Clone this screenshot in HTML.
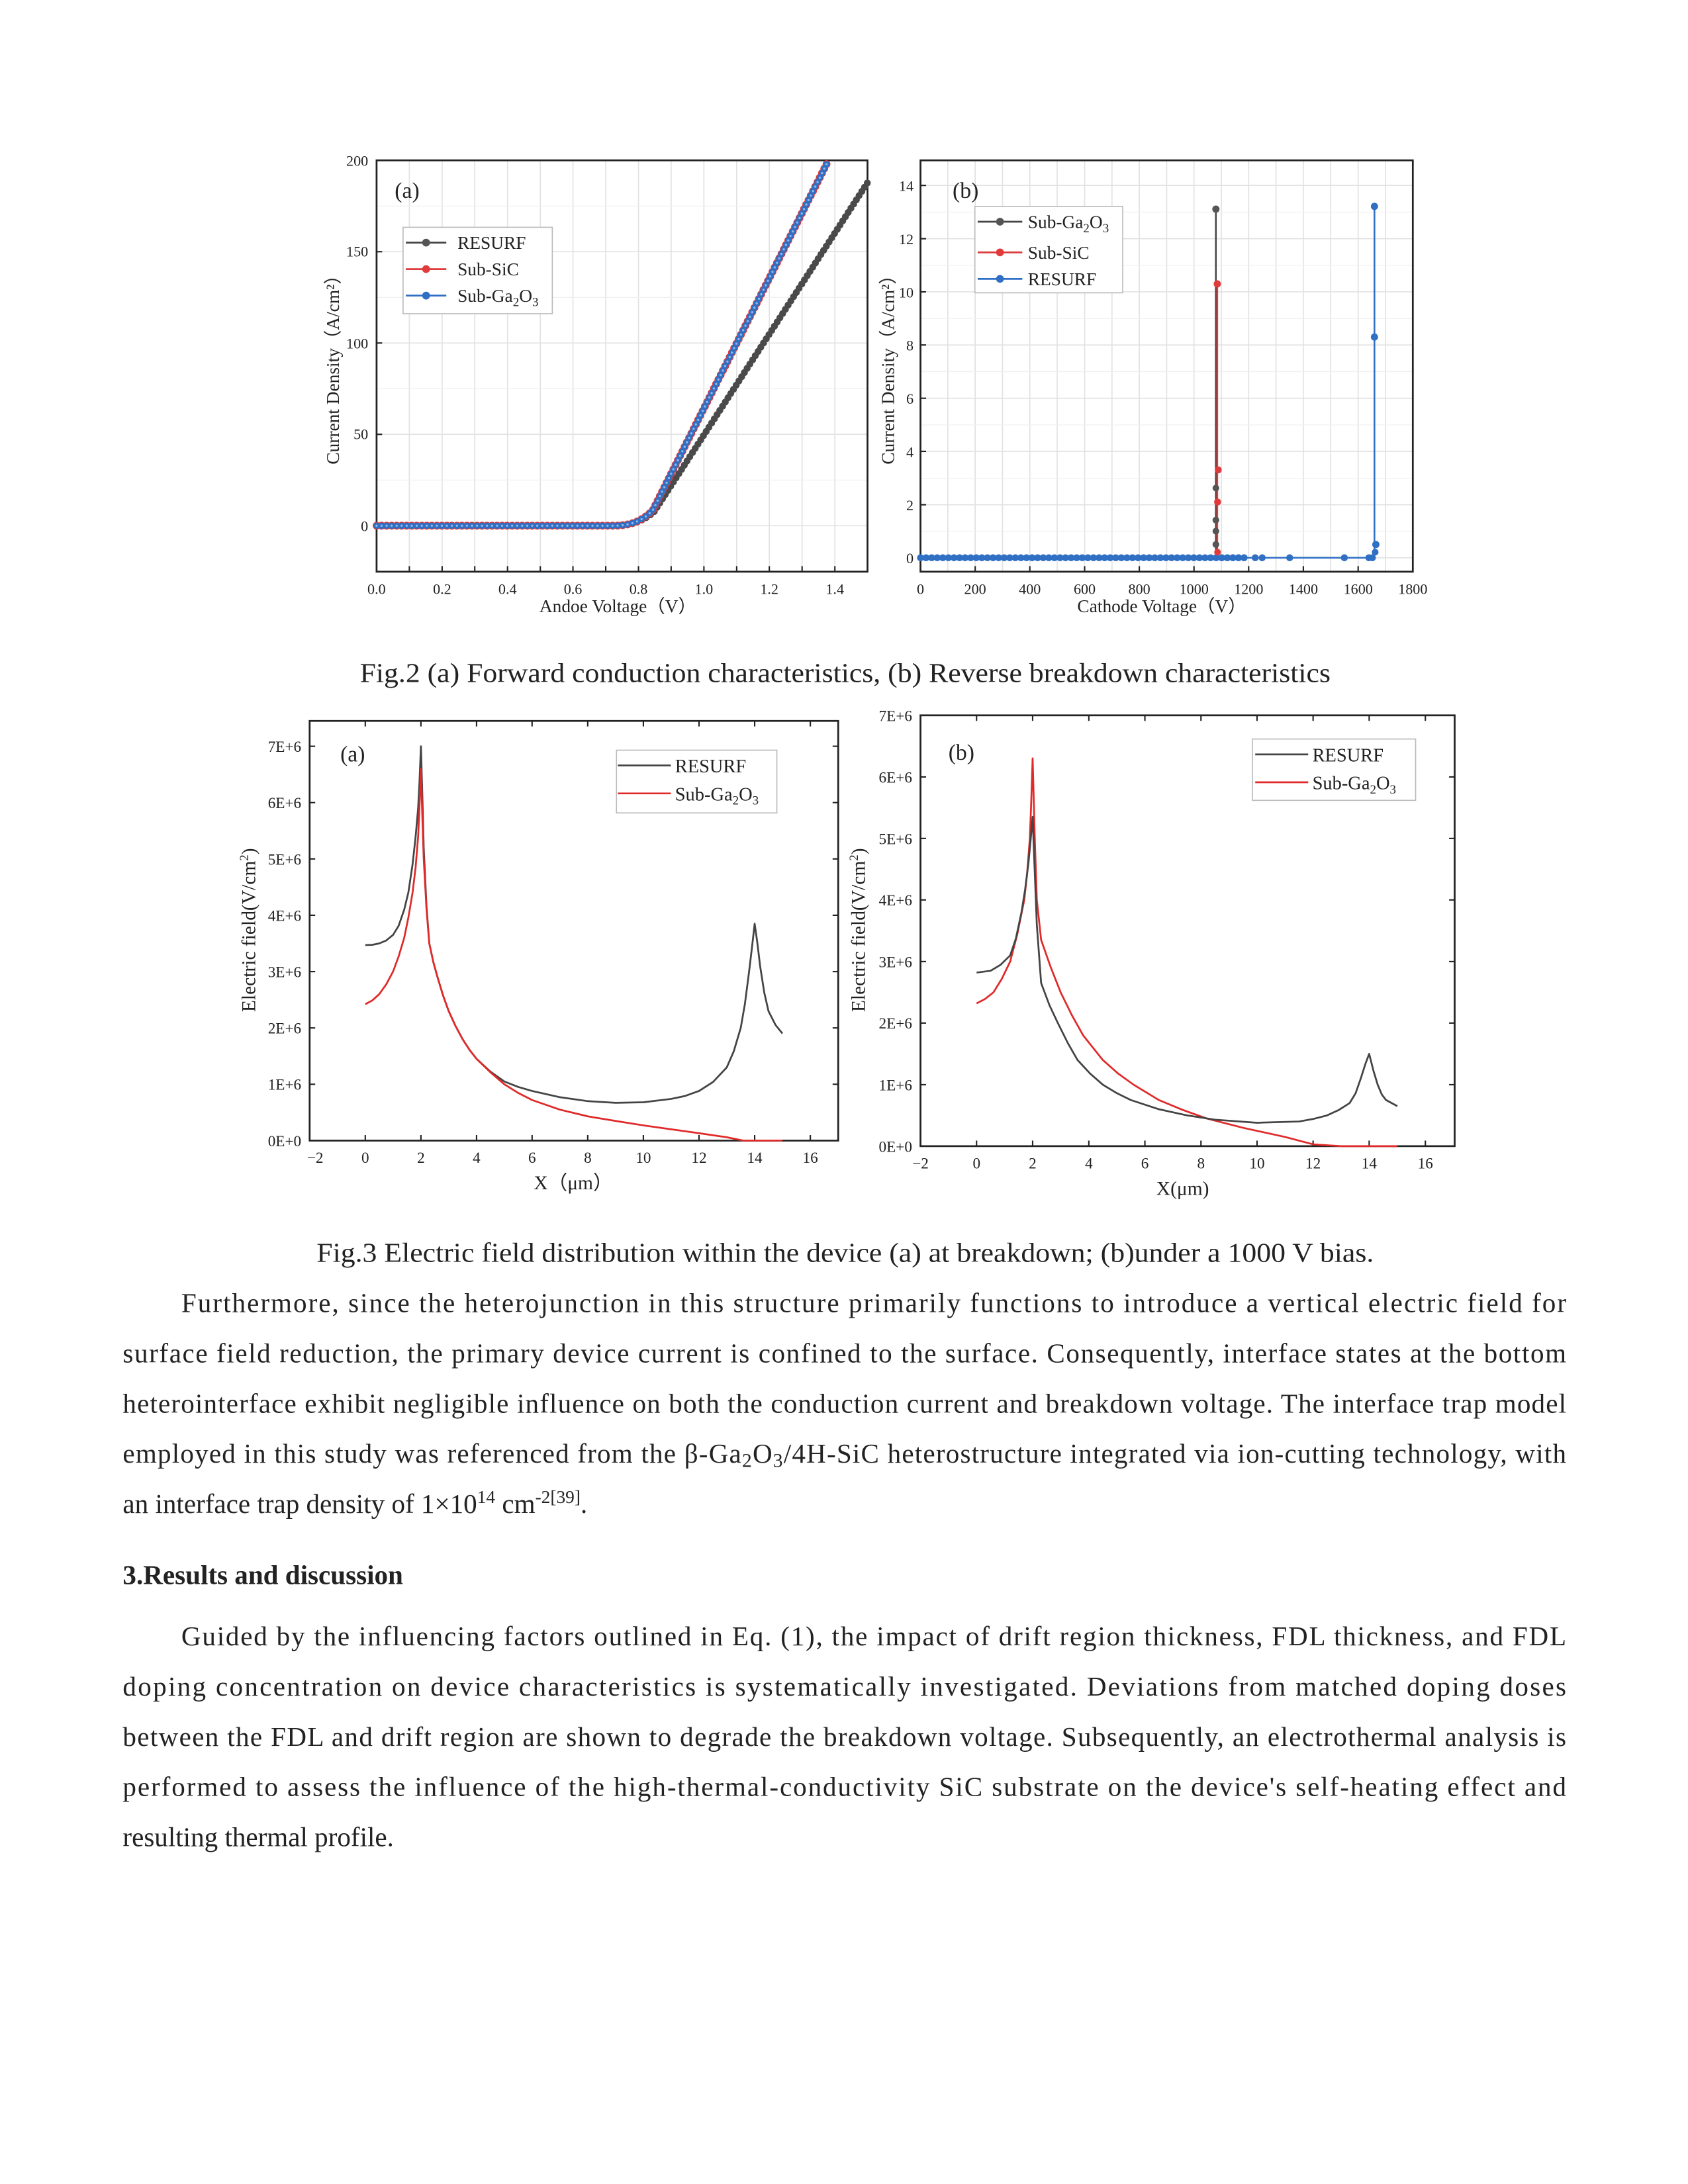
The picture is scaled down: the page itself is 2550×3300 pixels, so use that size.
<!DOCTYPE html>
<html><head><meta charset="utf-8"><style>
html,body{margin:0;padding:0;background:#fff;}
svg{display:block;}
text{font-family:"Liberation Serif",serif;fill:#222;}
</style></head><body>
<svg width="2550" height="3300" viewBox="0 0 1210.3 1566.3" xmlns="http://www.w3.org/2000/svg">
<rect width="1210.3" height="1566.3" fill="#fff"/>

<!-- ============ Fig 2a ============ -->
<g stroke="#e2e2e2" stroke-width="0.8">
<line x1="293.5" y1="115" x2="293.5" y2="410"/><line x1="317" y1="115" x2="317" y2="410"/><line x1="340.4" y1="115" x2="340.4" y2="410"/><line x1="363.9" y1="115" x2="363.9" y2="410"/><line x1="387.4" y1="115" x2="387.4" y2="410"/><line x1="410.8" y1="115" x2="410.8" y2="410"/><line x1="434.3" y1="115" x2="434.3" y2="410"/><line x1="457.8" y1="115" x2="457.8" y2="410"/><line x1="481.2" y1="115" x2="481.2" y2="410"/><line x1="504.7" y1="115" x2="504.7" y2="410"/><line x1="528.2" y1="115" x2="528.2" y2="410"/><line x1="551.6" y1="115" x2="551.6" y2="410"/><line x1="575.1" y1="115" x2="575.1" y2="410"/><line x1="598.6" y1="115" x2="598.6" y2="410"/>
<line x1="270" y1="180.5" x2="622" y2="180.5"/><line x1="270" y1="246" x2="622" y2="246"/><line x1="270" y1="311.5" x2="622" y2="311.5"/><line x1="270" y1="377" x2="622" y2="377"/>
</g>
<g stroke="#f0f0f0" stroke-width="0.6">
<line x1="270" y1="147.8" x2="622" y2="147.8"/><line x1="270" y1="213.3" x2="622" y2="213.3"/><line x1="270" y1="278.8" x2="622" y2="278.8"/><line x1="270" y1="344.3" x2="622" y2="344.3"/>
</g>
<rect x="270" y="115" width="352" height="295" fill="none" stroke="#222" stroke-width="1.3"/>
<g stroke="#222" stroke-width="1">
<line x1="270" y1="377" x2="274" y2="377"/><line x1="270" y1="311.5" x2="274" y2="311.5"/><line x1="270" y1="246" x2="274" y2="246"/><line x1="270" y1="180.5" x2="274" y2="180.5"/>
<line x1="293.5" y1="410" x2="293.5" y2="406"/><line x1="317" y1="410" x2="317" y2="406"/><line x1="340.4" y1="410" x2="340.4" y2="406"/><line x1="363.9" y1="410" x2="363.9" y2="406"/><line x1="387.4" y1="410" x2="387.4" y2="406"/><line x1="410.8" y1="410" x2="410.8" y2="406"/><line x1="434.3" y1="410" x2="434.3" y2="406"/><line x1="457.8" y1="410" x2="457.8" y2="406"/><line x1="481.2" y1="410" x2="481.2" y2="406"/><line x1="504.7" y1="410" x2="504.7" y2="406"/><line x1="528.2" y1="410" x2="528.2" y2="406"/><line x1="551.6" y1="410" x2="551.6" y2="406"/><line x1="575.1" y1="410" x2="575.1" y2="406"/><line x1="598.6" y1="410" x2="598.6" y2="406"/>
</g>
<g font-size="10.5" text-anchor="end">
<text x="264" y="119">200</text><text x="264" y="184">150</text><text x="264" y="250">100</text><text x="264" y="315">50</text><text x="264" y="381">0</text>
</g>
<g font-size="10.5" text-anchor="middle">
<text x="270" y="426">0.0</text><text x="317" y="426">0.2</text><text x="363.9" y="426">0.4</text><text x="410.8" y="426">0.6</text><text x="457.8" y="426">0.8</text><text x="504.7" y="426">1.0</text><text x="551.6" y="426">1.2</text><text x="598.6" y="426">1.4</text>
</g>
<text x="443" y="439" font-size="13" text-anchor="middle">Andoe Voltage（V）</text>
<text transform="translate(243,262) rotate(-90)" font-size="13" text-anchor="middle">Current Density（A/cm²）</text>
<text x="283" y="142" font-size="16">(a)</text>
<path d="M270,377 L440,377 C452,377 461,374 469,367 L622,131" fill="none" stroke="#444" stroke-width="1"/>
<path d="M270,377 L440,377 C452,377 461,374 469,367 L622,131" fill="none" stroke="#4a4a4a" stroke-width="5" stroke-linecap="round" stroke-dasharray="0 3.6"/>
<path d="M270,377 L440,377 C452,377 460,374 468,366 L594,115" fill="none" stroke="#e03a3a" stroke-width="5.6" stroke-linecap="round" stroke-dasharray="0 3.6"/>
<path d="M270,377 L440,377 C452,377 460,374 468,366 L594,115" fill="none" stroke="#2f6fc4" stroke-width="4.6" stroke-linecap="round" stroke-dasharray="0 3.6"/>
<path d="M270,377 L440,377 C452,377 460,374 468,366 L594,115" fill="none" stroke="#8fb6e8" stroke-width="1.6" stroke-linecap="round" stroke-dasharray="0 3.6"/>
<rect x="289" y="163" width="107" height="62" fill="#fff" stroke="#bbb" stroke-width="0.8"/>
<line x1="291" y1="174" x2="320" y2="174" stroke="#444" stroke-width="1.3"/><circle cx="305.5" cy="174" r="2.8" fill="#555"/>
<line x1="291" y1="193" x2="320" y2="193" stroke="#e03a3a" stroke-width="1.3"/><circle cx="305.5" cy="193" r="2.8" fill="#e03a3a"/>
<line x1="291" y1="212" x2="320" y2="212" stroke="#2f6fc4" stroke-width="1.3"/><circle cx="305.5" cy="212" r="2.8" fill="#2f6fc4"/>
<g font-size="13"><text x="328" y="178.5">RESURF</text><text x="328" y="197.5">Sub-SiC</text><text x="328" y="216.5">Sub-Ga<tspan font-size="9" dy="3">2</tspan><tspan dy="-3">O</tspan><tspan font-size="9" dy="3">3</tspan></text></g>

<!-- ============ Fig 2b ============ -->
<g stroke="#e2e2e2" stroke-width="0.8">
<line x1="679.6" y1="115" x2="679.6" y2="410"/><line x1="699.2" y1="115" x2="699.2" y2="410"/><line x1="718.8" y1="115" x2="718.8" y2="410"/><line x1="738.4" y1="115" x2="738.4" y2="410"/><line x1="758" y1="115" x2="758" y2="410"/><line x1="777.7" y1="115" x2="777.7" y2="410"/><line x1="797.3" y1="115" x2="797.3" y2="410"/><line x1="816.9" y1="115" x2="816.9" y2="410"/><line x1="836.5" y1="115" x2="836.5" y2="410"/><line x1="856.1" y1="115" x2="856.1" y2="410"/><line x1="875.7" y1="115" x2="875.7" y2="410"/><line x1="895.3" y1="115" x2="895.3" y2="410"/><line x1="914.9" y1="115" x2="914.9" y2="410"/><line x1="934.5" y1="115" x2="934.5" y2="410"/><line x1="954.1" y1="115" x2="954.1" y2="410"/><line x1="973.8" y1="115" x2="973.8" y2="410"/><line x1="993.4" y1="115" x2="993.4" y2="410"/>
<line x1="660" y1="362" x2="1013" y2="362"/><line x1="660" y1="323.7" x2="1013" y2="323.7"/><line x1="660" y1="285.6" x2="1013" y2="285.6"/><line x1="660" y1="247.4" x2="1013" y2="247.4"/><line x1="660" y1="209.3" x2="1013" y2="209.3"/><line x1="660" y1="171.2" x2="1013" y2="171.2"/><line x1="660" y1="133" x2="1013" y2="133"/><line x1="660" y1="400" x2="1013" y2="400"/>
</g>
<g stroke="#f0f0f0" stroke-width="0.6">
<line x1="660" y1="381" x2="1013" y2="381"/><line x1="660" y1="343" x2="1013" y2="343"/><line x1="660" y1="304.7" x2="1013" y2="304.7"/><line x1="660" y1="266.5" x2="1013" y2="266.5"/><line x1="660" y1="228.4" x2="1013" y2="228.4"/><line x1="660" y1="190.2" x2="1013" y2="190.2"/><line x1="660" y1="152.1" x2="1013" y2="152.1"/>
</g>
<rect x="660" y="115" width="353" height="295" fill="none" stroke="#222" stroke-width="1.3"/>
<g stroke="#222" stroke-width="1">
<line x1="660" y1="400" x2="664" y2="400"/><line x1="660" y1="362" x2="664" y2="362"/><line x1="660" y1="323.7" x2="664" y2="323.7"/><line x1="660" y1="285.6" x2="664" y2="285.6"/><line x1="660" y1="247.4" x2="664" y2="247.4"/><line x1="660" y1="209.3" x2="664" y2="209.3"/><line x1="660" y1="171.2" x2="664" y2="171.2"/><line x1="660" y1="133" x2="664" y2="133"/>
<line x1="699.2" y1="410" x2="699.2" y2="406"/><line x1="738.4" y1="410" x2="738.4" y2="406"/><line x1="777.7" y1="410" x2="777.7" y2="406"/><line x1="816.9" y1="410" x2="816.9" y2="406"/><line x1="856.1" y1="410" x2="856.1" y2="406"/><line x1="895.3" y1="410" x2="895.3" y2="406"/><line x1="934.5" y1="410" x2="934.5" y2="406"/><line x1="973.8" y1="410" x2="973.8" y2="406"/>
</g>
<g font-size="10.5" text-anchor="end">
<text x="655" y="404">0</text><text x="655" y="366">2</text><text x="655" y="327.7">4</text><text x="655" y="289.6">6</text><text x="655" y="251.4">8</text><text x="655" y="213.3">10</text><text x="655" y="175.2">12</text><text x="655" y="137">14</text>
</g>
<g font-size="10.5" text-anchor="middle">
<text x="660" y="426">0</text><text x="699.2" y="426">200</text><text x="738.4" y="426">400</text><text x="777.7" y="426">600</text><text x="816.9" y="426">800</text><text x="856.1" y="426">1000</text><text x="895.3" y="426">1200</text><text x="934.5" y="426">1400</text><text x="973.8" y="426">1600</text><text x="1013" y="426">1800</text>
</g>
<text x="833" y="439" font-size="13" text-anchor="middle">Cathode Voltage（V）</text>
<text transform="translate(641,262) rotate(-90)" font-size="13" text-anchor="middle">Current Density（A/cm²）</text>
<text x="683" y="142" font-size="16">(b)</text>
<path d="M660,400 L871.8,400 L871.8,150" fill="none" stroke="#444" stroke-width="1.2"/>
<path d="M660,400 L872.8,400 L872.8,203.6" fill="none" stroke="#e03a3a" stroke-width="1.2"/>
<path d="M660,400 L985.5,400 L985.5,148" fill="none" stroke="#2f6fc4" stroke-width="1.2"/>
<path d="M660,400 L895,400" fill="none" stroke="#2f6fc4" stroke-width="5" stroke-linecap="round" stroke-dasharray="0 4"/>
<g fill="#2f6fc4">
<circle cx="876" cy="400" r="2.5"/><circle cx="880" cy="400" r="2.5"/><circle cx="884" cy="400" r="2.5"/><circle cx="888" cy="400" r="2.5"/><circle cx="892" cy="400" r="2.5"/><circle cx="900" cy="400" r="2.5"/><circle cx="905" cy="400" r="2.5"/><circle cx="924.7" cy="400" r="2.5"/><circle cx="963.9" cy="400" r="2.5"/><circle cx="981.5" cy="400" r="2.5"/><circle cx="984" cy="400" r="2.5"/>
<circle cx="985.5" cy="148" r="2.6"/><circle cx="985.5" cy="241.7" r="2.6"/><circle cx="986.5" cy="390.5" r="2.6"/><circle cx="986" cy="396" r="2.4"/>
</g>
<g fill="#555"><circle cx="871.8" cy="150" r="2.6"/><circle cx="871.8" cy="350" r="2.4"/><circle cx="871.8" cy="373" r="2.4"/><circle cx="871.8" cy="380.9" r="2.4"/><circle cx="871.8" cy="390.5" r="2.4"/></g>
<g fill="#e03a3a"><circle cx="872.8" cy="203.6" r="2.6"/><circle cx="873.5" cy="337" r="2.5"/><circle cx="873" cy="360" r="2.5"/><circle cx="873" cy="396" r="2.4"/></g>
<rect x="699" y="148" width="106" height="62" fill="#fff" stroke="#bbb" stroke-width="0.8"/>
<line x1="701" y1="159" x2="733" y2="159" stroke="#444" stroke-width="1.3"/><circle cx="717" cy="159" r="2.8" fill="#555"/>
<line x1="701" y1="181" x2="733" y2="181" stroke="#e03a3a" stroke-width="1.3"/><circle cx="717" cy="181" r="2.8" fill="#e03a3a"/>
<line x1="701" y1="200" x2="733" y2="200" stroke="#2f6fc4" stroke-width="1.3"/><circle cx="717" cy="200" r="2.8" fill="#2f6fc4"/>
<g font-size="13"><text x="737" y="163.5">Sub-Ga<tspan font-size="9" dy="3">2</tspan><tspan dy="-3">O</tspan><tspan font-size="9" dy="3">3</tspan></text><text x="737" y="185.5">Sub-SiC</text><text x="737" y="204.5">RESURF</text></g>

<text x="606" y="489" font-size="19.5" text-anchor="middle" textLength="696" lengthAdjust="spacingAndGlyphs">Fig.2 (a) Forward conduction characteristics, (b) Reverse breakdown characteristics</text>

<!-- ============ Fig 3a ============ -->
<rect x="222" y="517" width="379" height="301" fill="none" stroke="#222" stroke-width="1.3"/>
<g stroke="#222" stroke-width="1">
<line x1="222" y1="777.6" x2="226" y2="777.6"/><line x1="222" y1="737.2" x2="226" y2="737.2"/><line x1="222" y1="696.8" x2="226" y2="696.8"/><line x1="222" y1="656.4" x2="226" y2="656.4"/><line x1="222" y1="616" x2="226" y2="616"/><line x1="222" y1="575.6" x2="226" y2="575.6"/><line x1="222" y1="535.2" x2="226" y2="535.2"/>
<line x1="601" y1="777.6" x2="597" y2="777.6"/><line x1="601" y1="737.2" x2="597" y2="737.2"/><line x1="601" y1="696.8" x2="597" y2="696.8"/><line x1="601" y1="656.4" x2="597" y2="656.4"/><line x1="601" y1="616" x2="597" y2="616"/><line x1="601" y1="575.6" x2="597" y2="575.6"/><line x1="601" y1="535.2" x2="597" y2="535.2"/>
<line x1="261.9" y1="818" x2="261.9" y2="814"/><line x1="301.8" y1="818" x2="301.8" y2="814"/><line x1="341.7" y1="818" x2="341.7" y2="814"/><line x1="381.5" y1="818" x2="381.5" y2="814"/><line x1="421.4" y1="818" x2="421.4" y2="814"/><line x1="461.3" y1="818" x2="461.3" y2="814"/><line x1="501.2" y1="818" x2="501.2" y2="814"/><line x1="541.1" y1="818" x2="541.1" y2="814"/><line x1="581" y1="818" x2="581" y2="814"/>
<line x1="261.9" y1="517" x2="261.9" y2="521"/><line x1="301.8" y1="517" x2="301.8" y2="521"/><line x1="341.7" y1="517" x2="341.7" y2="521"/><line x1="381.5" y1="517" x2="381.5" y2="521"/><line x1="421.4" y1="517" x2="421.4" y2="521"/><line x1="461.3" y1="517" x2="461.3" y2="521"/><line x1="501.2" y1="517" x2="501.2" y2="521"/><line x1="541.1" y1="517" x2="541.1" y2="521"/><line x1="581" y1="517" x2="581" y2="521"/>
</g>
<g font-size="11" text-anchor="end">
<text x="216" y="822">0E+0</text><text x="216" y="781.6">1E+6</text><text x="216" y="741.2">2E+6</text><text x="216" y="700.8">3E+6</text><text x="216" y="660.4">4E+6</text><text x="216" y="620">5E+6</text><text x="216" y="579.6">6E+6</text><text x="216" y="539.2">7E+6</text>
</g>
<g font-size="11" text-anchor="middle">
<text x="226" y="834">−2</text><text x="261.9" y="834">0</text><text x="301.8" y="834">2</text><text x="341.7" y="834">4</text><text x="381.5" y="834">6</text><text x="421.4" y="834">8</text><text x="461.3" y="834">10</text><text x="501.2" y="834">12</text><text x="541.1" y="834">14</text><text x="581" y="834">16</text>
</g>
<text x="411" y="853" font-size="14" text-anchor="middle">X（μm）</text>
<text transform="translate(183,667) rotate(-90)" font-size="14" text-anchor="middle">Electric field(V/cm<tspan font-size="9" dy="-5">2</tspan><tspan dy="5">)</tspan></text>
<text x="244" y="546" font-size="16">(a)</text>
<polyline fill="none" stroke="#444" stroke-width="1.3" stroke-linejoin="round" points="261.9,677.8 266.9,677.6 271.9,676.6 276.9,674.5 281.8,670.5 285.8,664 289.8,652.4 292.8,640 295.8,620 298,600 299.8,579.6 300.8,560 301.8,535.2 302.8,570 303.8,607.9 305.8,650 307.8,676.6 310.7,690 313.7,700.8 317.7,714 321.7,725.1 326.7,736 331.7,745.3 336.7,753 341.7,759.4 351.6,768.5 361.6,775.6 371.5,779.5 381.5,782.4 401.5,786.9 421.4,789.7 441.4,790.9 461.3,790.5 481.2,788.1 491.2,786 501.2,782.4 511.2,776 521.1,765.5 526.1,754 531.1,737.2 534.1,720 537.1,696.8 539.1,680 541.1,662.5 543,676 545,692.8 548,712 551,725.1 556,735 561,741.2"/>
<polyline fill="none" stroke="#e02a2a" stroke-width="1.3" stroke-linejoin="round" points="261.9,720.2 266.9,717.5 271.9,713 276.9,706 281.8,696.8 285.8,686 289.8,672.6 292.8,658 295.8,640.2 298,622 299.8,599.8 300.8,578 301.8,551.4 302.8,585 303.8,616 305.8,652 307.8,676.6 310.7,690 313.7,700.8 317.7,714 321.7,725.1 326.7,736 331.7,745.3 336.7,753 341.7,759.4 351.6,769 361.6,777.6 371.5,783.8 381.5,788.9 401.5,795.8 421.4,800.6 441.4,803.9 461.3,807.1 481.2,809.9 501.2,812.7 521.1,815.6 533.1,818 561,818"/>
<rect x="442" y="538" width="115" height="45" fill="#fff" stroke="#bbb" stroke-width="0.8"/>
<line x1="443" y1="549" x2="481" y2="549" stroke="#444" stroke-width="1.3"/>
<line x1="443" y1="569" x2="481" y2="569" stroke="#e02a2a" stroke-width="1.3"/>
<g font-size="13.5"><text x="484" y="554">RESURF</text><text x="484" y="574">Sub-Ga<tspan font-size="9" dy="3">2</tspan><tspan dy="-3">O</tspan><tspan font-size="9" dy="3">3</tspan></text></g>

<!-- ============ Fig 3b ============ -->
<rect x="660" y="513" width="383" height="309" fill="none" stroke="#222" stroke-width="1.3"/>
<g stroke="#222" stroke-width="1">
<line x1="660" y1="777.9" x2="664" y2="777.9"/><line x1="660" y1="733.7" x2="664" y2="733.7"/><line x1="660" y1="689.6" x2="664" y2="689.6"/><line x1="660" y1="645.4" x2="664" y2="645.4"/><line x1="660" y1="601.3" x2="664" y2="601.3"/><line x1="660" y1="557.2" x2="664" y2="557.2"/>
<line x1="1043" y1="777.9" x2="1039" y2="777.9"/><line x1="1043" y1="733.7" x2="1039" y2="733.7"/><line x1="1043" y1="689.6" x2="1039" y2="689.6"/><line x1="1043" y1="645.4" x2="1039" y2="645.4"/><line x1="1043" y1="601.3" x2="1039" y2="601.3"/><line x1="1043" y1="557.2" x2="1039" y2="557.2"/>
<line x1="700.2" y1="822" x2="700.2" y2="818"/><line x1="740.4" y1="822" x2="740.4" y2="818"/><line x1="780.7" y1="822" x2="780.7" y2="818"/><line x1="820.9" y1="822" x2="820.9" y2="818"/><line x1="861.1" y1="822" x2="861.1" y2="818"/><line x1="901.3" y1="822" x2="901.3" y2="818"/><line x1="941.5" y1="822" x2="941.5" y2="818"/><line x1="981.7" y1="822" x2="981.7" y2="818"/><line x1="1022" y1="822" x2="1022" y2="818"/>
<line x1="700.2" y1="513" x2="700.2" y2="517"/><line x1="740.4" y1="513" x2="740.4" y2="517"/><line x1="780.7" y1="513" x2="780.7" y2="517"/><line x1="820.9" y1="513" x2="820.9" y2="517"/><line x1="861.1" y1="513" x2="861.1" y2="517"/><line x1="901.3" y1="513" x2="901.3" y2="517"/><line x1="941.5" y1="513" x2="941.5" y2="517"/><line x1="981.7" y1="513" x2="981.7" y2="517"/><line x1="1022" y1="513" x2="1022" y2="517"/>
</g>
<g font-size="11" text-anchor="end">
<text x="654" y="826">0E+0</text><text x="654" y="781.9">1E+6</text><text x="654" y="737.7">2E+6</text><text x="654" y="693.6">3E+6</text><text x="654" y="649.4">4E+6</text><text x="654" y="605.3">5E+6</text><text x="654" y="561.2">6E+6</text><text x="654" y="517">7E+6</text>
</g>
<g font-size="11" text-anchor="middle">
<text x="660" y="838">−2</text><text x="700.2" y="838">0</text><text x="740.4" y="838">2</text><text x="780.7" y="838">4</text><text x="820.9" y="838">6</text><text x="861.1" y="838">8</text><text x="901.3" y="838">10</text><text x="941.5" y="838">12</text><text x="981.7" y="838">14</text><text x="1022" y="838">16</text>
</g>
<text x="848" y="857" font-size="14" text-anchor="middle">X(μm)</text>
<text transform="translate(620,667) rotate(-90)" font-size="14" text-anchor="middle">Electric field(V/cm<tspan font-size="9" dy="-5">2</tspan><tspan dy="5">)</tspan></text>
<text x="680" y="545" font-size="16">(b)</text>
<polyline fill="none" stroke="#e02a2a" stroke-width="1.3" stroke-linejoin="round" points="700.2,719.6 706.2,716.5 712.3,711.7 718.3,702 724.3,689.6 729.4,670 734.4,645.4 736.4,627 738.4,601.3 739.4,575 740.4,543.9 741.9,600 743.4,645.4 746.5,674.1 753.5,694 760.5,711.7 768.5,728 776.6,742.5 790.7,760.2 801.8,770 812.8,777.9 830.9,788.9 848,796 865.1,802.1 891.2,808.8 921.4,815.4 941.5,820.7 961.6,822 1001.9,822"/>
<polyline fill="none" stroke="#444" stroke-width="1.3" stroke-linejoin="round" points="700.2,697.5 710.3,696.2 717.3,692 724.3,685.2 728.4,673 732.4,654.3 735,638 737.4,619 739,602 740.4,585.8 741.9,625 743.4,663.1 746.5,705 752.5,721 758.5,733.7 765.6,748 772.6,760.2 781.7,770 790.7,777.9 800.8,784 810.8,788.9 830.9,795.5 851,799.9 871.1,803 901.3,805.2 931.5,804.3 941.5,802.5 951.6,799.9 960,796 967.7,791.1 972,784 975.7,773.4 979,763 981.7,755.8 984.8,768 987.8,777.9 990.8,785 993.8,788.9 1001.9,793.3"/>
<rect x="898" y="530" width="117" height="44" fill="#fff" stroke="#bbb" stroke-width="0.8"/>
<line x1="900" y1="541" x2="938" y2="541" stroke="#444" stroke-width="1.3"/>
<line x1="900" y1="561" x2="938" y2="561" stroke="#e02a2a" stroke-width="1.3"/>
<g font-size="13.5"><text x="941" y="546">RESURF</text><text x="941" y="566">Sub-Ga<tspan font-size="9" dy="3">2</tspan><tspan dy="-3">O</tspan><tspan font-size="9" dy="3">3</tspan></text></g>

<text x="606" y="905" font-size="19.5" text-anchor="middle" textLength="758" lengthAdjust="spacingAndGlyphs">Fig.3 Electric field distribution within the device (a) at breakdown; (b)under a 1000 V bias.</text>

<!-- ============ Body text ============ -->
<g font-size="19.5">
<text x="130" y="941" textLength="993" lengthAdjust="spacing">Furthermore, since the heterojunction in this structure primarily functions to introduce a vertical electric field for</text>
<text x="88" y="977" textLength="1035" lengthAdjust="spacing">surface field reduction, the primary device current is confined to the surface. Consequently, interface states at the bottom</text>
<text x="88" y="1013" textLength="1035" lengthAdjust="spacing">heterointerface exhibit negligible influence on both the conduction current and breakdown voltage. The interface trap model</text>
<text x="88" y="1049" textLength="1035" lengthAdjust="spacing">employed in this study was referenced from the β-Ga<tspan font-size="14" dy="3">2</tspan><tspan dy="-3">O</tspan><tspan font-size="14" dy="3">3</tspan><tspan dy="-3">/4H-SiC heterostructure integrated via ion-cutting technology, with</tspan></text>
<text x="88" y="1085">an interface trap density of 1×10<tspan font-size="13" dy="-7">14</tspan><tspan dy="7"> cm</tspan><tspan font-size="13" dy="-7">-2[39]</tspan><tspan dy="7">.</tspan></text>
<text x="88" y="1136" font-weight="bold">3.Results and discussion</text>
<text x="130" y="1180" textLength="993" lengthAdjust="spacing">Guided by the influencing factors outlined in Eq. (1), the impact of drift region thickness, FDL thickness, and FDL</text>
<text x="88" y="1216" textLength="1035" lengthAdjust="spacing">doping concentration on device characteristics is systematically investigated. Deviations from matched doping doses</text>
<text x="88" y="1252" textLength="1035" lengthAdjust="spacing">between the FDL and drift region are shown to degrade the breakdown voltage. Subsequently, an electrothermal analysis is</text>
<text x="88" y="1288" textLength="1035" lengthAdjust="spacing">performed to assess the influence of the high-thermal-conductivity SiC substrate on the device's self-heating effect and</text>
<text x="88" y="1324">resulting thermal profile.</text>
</g>
</svg>
</body></html>
